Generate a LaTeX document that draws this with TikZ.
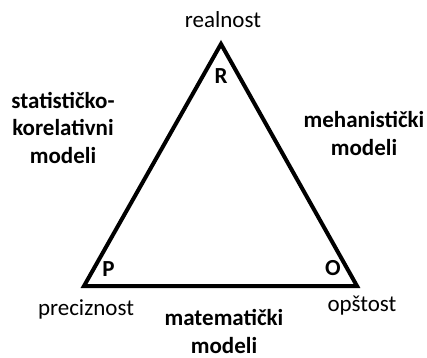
\documentclass[tikz,border=0pt]{standalone}
\usepackage{fontspec}
\setmainfont{Carlito}
\begin{document}
\begin{tikzpicture}[x=1bp,y=-1bp,
  lbl/.style={inner sep=0pt,anchor=base,font=\fontsize{23bp}{28bp}\selectfont},
  blbl/.style={lbl,font=\fontsize{23bp}{27.5bp}\selectfont\bfseries,align=center},
  edge/.style={line width=4bp,line join=miter,draw=black}]
\useasboundingbox (0,0) rectangle (427,358);
\coordinate (R) at (221,44);
\coordinate (P) at (84,286);
\coordinate (O) at (357,286);
\draw[edge] (R) -- (P) -- (O) -- cycle;
\node[lbl] (realnost) at (223,27) {realnost};
\node[lbl] (preciznost) at (86,315) {preciznost};
\node[lbl] (opstost) at (362,311) {opštost};
\node[lbl,font=\fontsize{23bp}{28bp}\selectfont\bfseries] (lR) at (221,83) {R};
\node[lbl,font=\fontsize{23bp}{28bp}\selectfont\bfseries] (lP) at (108.5,276) {P};
\node[lbl,font=\fontsize{23bp}{28bp}\selectfont\bfseries] (lO) at (333,275) {O};
\node[blbl] (stat) at (63,163) {statističko-\\korelativni\\modeli};
\node[blbl] (meh) at (364,155) {mehanistički\\modeli};
\node[blbl] (mat) at (224,353) {matematički\\modeli};
\end{tikzpicture}
\end{document}
